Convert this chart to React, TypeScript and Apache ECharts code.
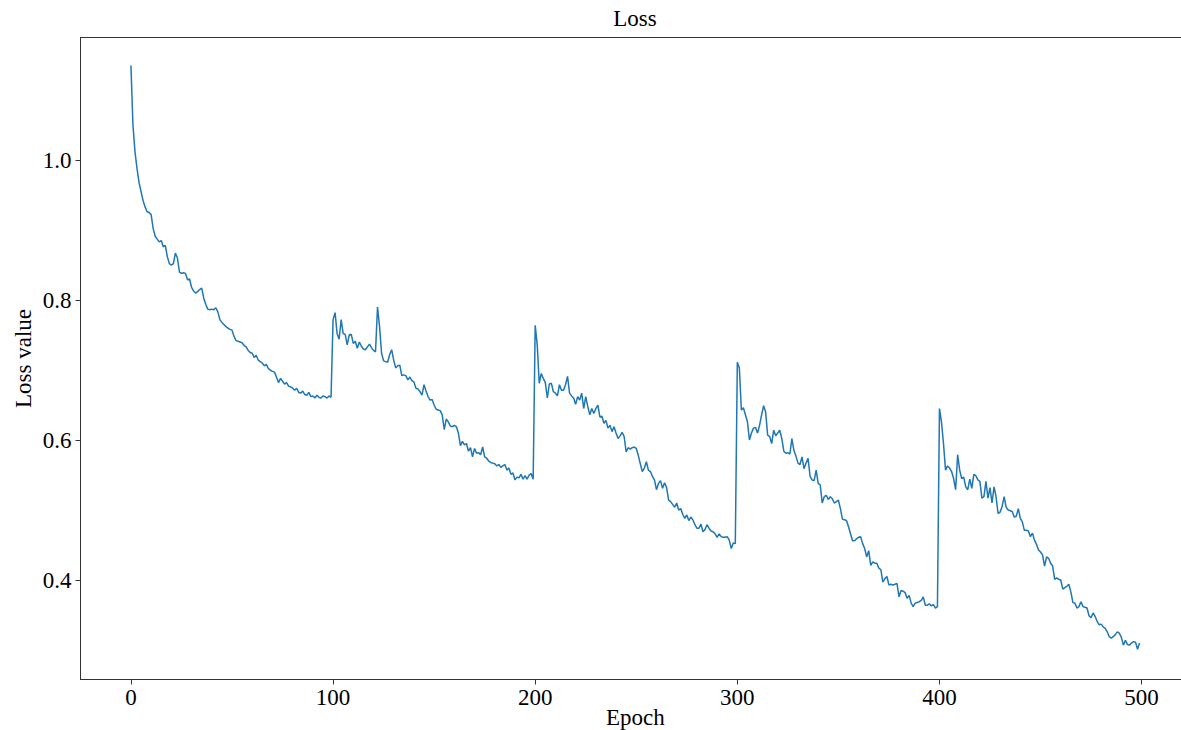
import React, { useEffect, useRef } from "react";
import * as echarts from "echarts";

// Loss values per epoch, one array per 100-epoch cycle
const cycle1: number[] = [
  1.135, 1.050, 1.012, 0.988, 0.968, 0.955, 0.942, 0.933, 0.926, 0.925,
  0.922, 0.902, 0.891, 0.887, 0.883, 0.885, 0.876, 0.878, 0.862, 0.852,
  0.850, 0.852, 0.867, 0.860, 0.840, 0.838, 0.839, 0.838, 0.829, 0.830,
  0.818, 0.813, 0.810, 0.812, 0.815, 0.817, 0.803, 0.794, 0.787, 0.786,
  0.787, 0.786, 0.789, 0.783, 0.772, 0.768, 0.765, 0.762, 0.760, 0.758,
  0.757, 0.748, 0.742, 0.741, 0.740, 0.739, 0.735, 0.733, 0.728, 0.725,
  0.724, 0.718, 0.721, 0.714, 0.712, 0.710, 0.706, 0.708, 0.702, 0.700,
  0.698, 0.697, 0.690, 0.682, 0.688, 0.684, 0.680, 0.682, 0.677, 0.676,
  0.674, 0.671, 0.674, 0.668, 0.667, 0.670, 0.665, 0.664, 0.668, 0.662,
  0.663, 0.660, 0.664, 0.661, 0.660, 0.663, 0.662, 0.660, 0.663, 0.661,
];
const cycle2: number[] = [
  0.772, 0.782, 0.752, 0.744, 0.772, 0.752, 0.751, 0.736, 0.750, 0.751,
  0.738, 0.741, 0.731, 0.740, 0.734, 0.730, 0.729, 0.733, 0.737, 0.732,
  0.728, 0.726, 0.790, 0.762, 0.724, 0.713, 0.712, 0.711, 0.722, 0.729,
  0.714, 0.703, 0.706, 0.707, 0.692, 0.693, 0.692, 0.686, 0.690, 0.685,
  0.683, 0.674, 0.673, 0.669, 0.664, 0.679, 0.670, 0.662, 0.657, 0.658,
  0.650, 0.644, 0.643, 0.642, 0.636, 0.615, 0.630, 0.626, 0.620, 0.619,
  0.621, 0.619, 0.610, 0.592, 0.598, 0.593, 0.595, 0.584, 0.589, 0.576,
  0.588, 0.581, 0.582, 0.579, 0.590, 0.576, 0.574, 0.570, 0.568, 0.567,
  0.566, 0.563, 0.565, 0.561, 0.563, 0.565, 0.557, 0.560, 0.551, 0.553,
  0.543, 0.547, 0.546, 0.551, 0.544, 0.549, 0.544, 0.550, 0.552, 0.544,
];
const cycle3: number[] = [
  0.764, 0.736, 0.681, 0.695, 0.688, 0.682, 0.660, 0.680, 0.681, 0.669,
  0.667, 0.663, 0.679, 0.671, 0.671, 0.679, 0.691, 0.667, 0.663, 0.660,
  0.651, 0.662, 0.657, 0.667, 0.645, 0.662, 0.648, 0.636, 0.645, 0.638,
  0.645, 0.650, 0.633, 0.634, 0.624, 0.628, 0.617, 0.621, 0.612, 0.619,
  0.610, 0.602, 0.606, 0.611, 0.605, 0.583, 0.589, 0.587, 0.589, 0.590,
  0.588, 0.578, 0.566, 0.555, 0.560, 0.569, 0.557, 0.555, 0.548, 0.543,
  0.529, 0.538, 0.542, 0.531, 0.539, 0.532, 0.514, 0.512, 0.508, 0.504,
  0.510, 0.500, 0.502, 0.494, 0.488, 0.493, 0.485, 0.490, 0.486, 0.479,
  0.474, 0.474, 0.480, 0.469, 0.472, 0.479, 0.474, 0.470, 0.469, 0.466,
  0.461, 0.466, 0.462, 0.461, 0.461, 0.462, 0.457, 0.445, 0.453, 0.452,
];
const cycle4: number[] = [
  0.711, 0.703, 0.643, 0.646, 0.636, 0.626, 0.600, 0.610, 0.617, 0.618,
  0.610, 0.621, 0.636, 0.649, 0.640, 0.607, 0.605, 0.595, 0.614, 0.606,
  0.610, 0.614, 0.602, 0.584, 0.581, 0.582, 0.580, 0.602, 0.585, 0.577,
  0.567, 0.565, 0.576, 0.559, 0.567, 0.574, 0.548, 0.543, 0.542, 0.557,
  0.538, 0.536, 0.510, 0.519, 0.521, 0.515, 0.519, 0.516, 0.510, 0.512,
  0.514, 0.502, 0.487, 0.486, 0.485, 0.476, 0.466, 0.456, 0.456, 0.459,
  0.461, 0.462, 0.452, 0.445, 0.433, 0.442, 0.421, 0.426, 0.424, 0.424,
  0.417, 0.415, 0.397, 0.402, 0.405, 0.393, 0.394, 0.393, 0.394, 0.395,
  0.376, 0.385, 0.384, 0.382, 0.374, 0.378, 0.367, 0.362, 0.367, 0.368,
  0.369, 0.371, 0.376, 0.364, 0.364, 0.366, 0.363, 0.365, 0.360, 0.362,
];
const cycle5: number[] = [
  0.645, 0.626, 0.595, 0.557, 0.563, 0.560, 0.555, 0.545, 0.529, 0.579,
  0.557, 0.545, 0.547, 0.533, 0.529, 0.544, 0.531, 0.551, 0.549, 0.543,
  0.541, 0.517, 0.519, 0.541, 0.517, 0.532, 0.510, 0.533, 0.519, 0.495,
  0.497, 0.505, 0.519, 0.504, 0.500, 0.499, 0.498, 0.490, 0.491, 0.502,
  0.488, 0.483, 0.471, 0.471, 0.470, 0.462, 0.467, 0.457, 0.451, 0.443,
  0.440, 0.436, 0.420, 0.433, 0.431, 0.424, 0.420, 0.401, 0.403, 0.401,
  0.400, 0.387, 0.389, 0.391, 0.394, 0.383, 0.368, 0.367, 0.360, 0.362,
  0.369, 0.362, 0.361, 0.360, 0.349, 0.346, 0.353, 0.348, 0.341, 0.336,
  0.337, 0.333, 0.331, 0.326, 0.319, 0.317, 0.319, 0.322, 0.326, 0.324,
  0.318, 0.307, 0.314, 0.308, 0.307, 0.310, 0.312, 0.311, 0.301, 0.310,
];

const xTicks: number[] = [0, 100, 200, 300, 400, 500];
const yTicks: number[] = [0.4, 0.6, 0.8, 1.0];

const FONT = "'Liberation Serif', 'Times New Roman', serif";

export default function App() {
  const ref = useRef<HTMLDivElement>(null);

  useEffect(() => {
    document.body.style.margin = "0";
    if (!ref.current) return;
    const chart = echarts.init(ref.current, null, { renderer: "svg" });

    const loss = [...cycle1, ...cycle2, ...cycle3, ...cycle4, ...cycle5];
    const data = loss.map((v, i) => [i, v]);

    const axisLineStyle = { color: "#333", width: 1 };

    chart.setOption({
      animation: false,
      backgroundColor: "#fff",
      title: {
        text: "Loss",
        left: 635,
        top: 7,
        padding: 0,
        textAlign: "center",
        textStyle: { fontFamily: FONT, fontSize: 23, fontWeight: "normal", color: "#000" },
      },
      grid: {
        left: 80.5,
        top: 37.5,
        width: 1109.5,
        height: 642,
        show: true,
        borderColor: "#333",
        borderWidth: 1,
        backgroundColor: "transparent",
        containLabel: false,
        outerBoundsMode: "none",
      },
      xAxis: {
        type: "value",
        min: -24.95,
        max: 523.95,
        name: "Epoch",
        nameLocation: "middle",
        nameGap: 26,
        nameMoveOverlap: false,
        nameTextStyle: { fontFamily: FONT, fontSize: 23, color: "#000" },
        axisLine: { show: true, onZero: false, lineStyle: axisLineStyle },
        axisTick: { show: true, inside: false, length: 5, customValues: xTicks, lineStyle: axisLineStyle },
        axisLabel: {
          customValues: xTicks,
          fontFamily: FONT,
          fontSize: 23,
          color: "#000",
          margin: 6,
          formatter: (v: number) => String(v),
        },
        splitLine: { show: false },
      },
      yAxis: {
        type: "value",
        min: 0.2579,
        max: 1.175,
        name: "Loss value",
        nameLocation: "middle",
        nameRotate: 90,
        nameGap: 46,
        nameMoveOverlap: false,
        nameTextStyle: { fontFamily: FONT, fontSize: 23, color: "#000" },
        axisLine: { show: true, onZero: false, lineStyle: axisLineStyle },
        axisTick: { show: true, inside: false, length: 5, customValues: yTicks, lineStyle: axisLineStyle },
        axisLabel: {
          customValues: yTicks,
          fontFamily: FONT,
          fontSize: 23,
          color: "#000",
          margin: 9,
          formatter: (v: number) => v.toFixed(1),
        },
        splitLine: { show: false },
      },
      series: [
        {
          type: "line",
          data,
          symbol: "none",
          showSymbol: false,
          lineStyle: { color: "#1f77b4", width: 1.5 },
          itemStyle: { color: "#1f77b4" },
        },
      ],
    });

    return () => chart.dispose();
  }, []);

  return (
    <div
      ref={ref}
      style={{ position: "absolute", left: 0, top: 0, width: "1181px", height: "730px", background: "#fff" }}
    />
  );
}
